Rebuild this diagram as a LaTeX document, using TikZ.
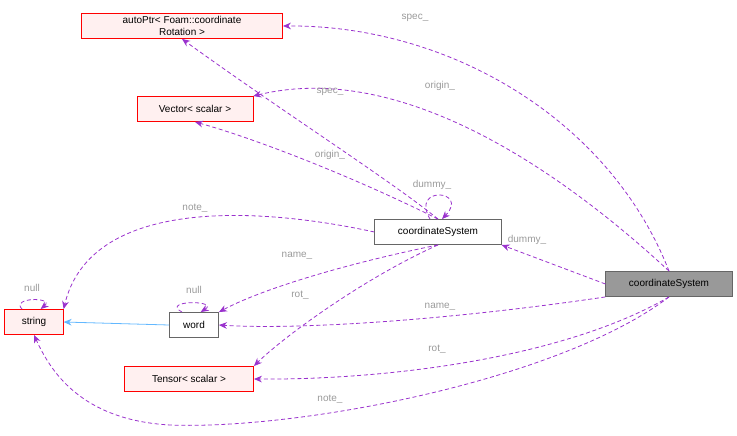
\documentclass[tikz,border=0pt]{standalone}
\usepackage{fontspec}
\setmainfont{Liberation Sans}
\usetikzlibrary{arrows.meta}
\definecolor{edgepurple}{HTML}{9A32CD}
\definecolor{edgeblue}{HTML}{63B8FF}
\definecolor{labgray}{HTML}{9A9A9A}
\definecolor{boxred}{HTML}{FF0000}
\definecolor{boxpink}{HTML}{FFF0F0}
\tikzset{
  cls/.style={draw=boxred, fill=boxpink, font=\fontsize{7.5}{8.5}\selectfont, align=center, inner sep=2pt, minimum height=19pt},
  plain/.style={draw=gray!80!black, fill=white, font=\fontsize{7.5}{8.5}\selectfont, inner sep=2pt, minimum height=19pt},
  dep/.style={draw=edgepurple, line width=0.6pt, dash pattern=on 3pt off 2pt, -{Stealth[length=6pt,width=5pt]}},
  lab/.style={text=labgray, font=\fontsize{7.5}{8.5}\selectfont}
}
\begin{document}
\begin{tikzpicture}[x=0.75pt,y=-0.75pt]
  \useasboundingbox (0,0) rectangle (737,435);
  % classes
  \node[cls, minimum width=151pt] (autoptr) at (182,26) {autoPtr< Foam::coordinate\\Rotation >};
  \node[cls, minimum width=87pt] (vector) at (195,109) {Vector< scalar >};
  \node[plain, minimum width=95pt] (mid) at (438,232) {coordinateSystem};
  \node[plain, fill=gray!80, minimum width=95pt] (main) at (669,284) {coordinateSystem};
  \node[cls, minimum width=44pt] (string) at (34,322) {string};
  \node[plain, minimum width=37pt] (word) at (194,325) {word};
  \node[cls, minimum width=97pt] (tensor) at (189,379) {Tensor< scalar >};
  % members of the main class
  \draw[dep] (main.north) .. controls (610,120) and (450,25) .. (autoptr.east);
  \draw[dep] (main.north) .. controls (560,170) and (400,60) .. (vector.north east);
  \draw[dep] (main.west) -- (mid.south east);
  \draw[dep] (main.south west) .. controls (450,320) and (300,330) .. (word.east);
  \draw[dep] (main.south) .. controls (560,360) and (380,380) .. (tensor.east);
  \draw[dep] (main.south) .. controls (560,380) and (300,430) .. (170,425) .. controls (80,420) and (50,370) .. (string.south);
  % members of the middle class
  \draw[dep] (mid.north) .. controls (390,180) and (280,110) .. (autoptr.south);
  \draw[dep] (mid.north) .. controls (360,180) and (260,140) .. (vector.south);
  \draw[dep] ([xshift=-6pt]mid.north) .. controls (410,185) and (470,190) .. ([xshift=3pt]mid.north);
  \draw[dep] (mid.west) .. controls (250,205) and (90,200) .. (string.north east);
  \draw[dep] (mid.south) .. controls (340,265) and (260,290) .. (word.north east);
  \draw[dep] (mid.south) .. controls (360,280) and (280,340) .. (tensor.north east);
  % self loops and inheritance
  \draw[dep] ([xshift=-9pt]word.north) .. controls (160,300) and (220,300) .. ([xshift=5pt]word.north);
  \draw[dep] ([xshift=-9pt]string.north) .. controls (10,297) and (55,297) .. ([xshift=5pt]string.north);
  \draw[draw=edgeblue, line width=0.6pt, -{Stealth[length=6pt,width=5pt]}] (word.west) -- (string.east);
  % labels
  \node[lab] (l1) at (415,18) {spec\_};
  \node[lab] (l2) at (440,86) {origin\_};
  \node[lab] (l3) at (527,240) {dummy\_};
  \node[lab] (l4) at (440,307) {name\_};
  \node[lab] (l5) at (437,349) {rot\_};
  \node[lab] (l6) at (330,399) {note\_};
  \node[lab] (l7) at (330,92) {spec\_};
  \node[lab] (l8) at (330,155) {origin\_};
  \node[lab] (l9) at (432,185) {dummy\_};
  \node[lab] (l10) at (195,208) {note\_};
  \node[lab] (l11) at (297,256) {name\_};
  \node[lab] (l12) at (300,295) {rot\_};
  \node[lab] (l13) at (194,290) {null};
  \node[lab] (l14) at (32,288) {null};
\end{tikzpicture}
\end{document}
